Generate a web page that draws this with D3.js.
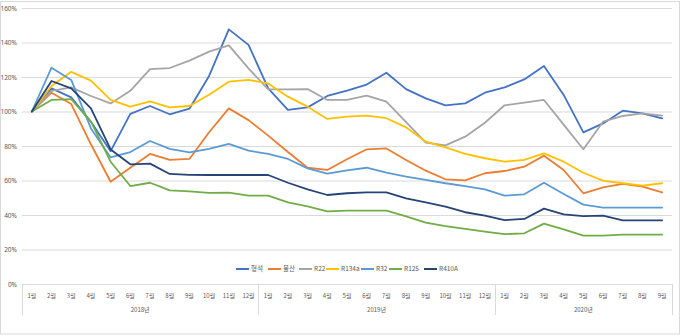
<!DOCTYPE html>
<html>
<head>
<meta charset="utf-8">
<script src="https://cdn.jsdelivr.net/npm/d3@7"></script>
<style>
  html, body { margin: 0; padding: 0; background: #fff; }
  svg { display: block; }
  text { font-family: "Noto Sans CJK KR", "Noto Sans", sans-serif; fill: #595959; }
</style>
</head>
<body>
<svg id="chart" width="680" height="336"></svg>
<script>
// Monthly index (Jan 2018 = 100%)
const years = ["2018년", "2019년", "2020년"];
const monthsPerYear = [12, 12, 9];
const yTicks = [0, 20, 40, 60, 80, 100, 120, 140, 160];

const seriesNames = ["형석", "불산", "R22", "R134a", "R32", "R125", "R410A"];
const seriesColors = ["#4472C4", "#ED7D31", "#A5A5A5", "#FFC000", "#5B9BD5", "#70AD47", "#264478"];

const fluorite = [100, 113.4, 108.2, 94, 77, 98.6, 103.2, 98.4, 101.6, 120.6, 147.6, 138.6,
                  113.4, 100.9, 102.4, 109, 112.1, 115.6, 122.5, 113, 107.6, 103.5, 104.7, 110.9,
                  114, 118.6, 126.4, 109.6, 87.9, 93.1, 100.5, 98.9, 96];
const hfAcid = [100, 110.9, 104.3, 81, 59.3, 67.4, 75.4, 71.9, 72.5, 88, 101.8, 95,
                86, 76.5, 67.4, 66.1, 72.3, 78.1, 78.6, 71.9, 65.7, 60.7, 60.1, 64.2,
                65.5, 68, 74.4, 66.1, 52.6, 56, 58, 56.4, 53.1];
const r22 = [100, 112, 114, 109, 104.7, 112, 124.6, 125.2, 129.5, 134.7, 138.3, 125,
             112.8, 112.8, 113, 106.7, 106.7, 109.2, 105.7, 93.9, 81.9, 80.4, 85.4, 93.5,
             103.6, 105.1, 106.7, 92.4, 78.1, 94.1, 97.4, 98.9, 97.6];
const r134a = [100, 114.8, 123, 117.9, 106.7, 102.8, 105.9, 102.4, 103.2, 109.7, 117.3, 118.3,
               116.3, 108.6, 102.8, 95.7, 97, 97.6, 96.1, 90.8, 82.5, 79.2, 75.4, 72.9,
               70.9, 71.9, 75.7, 70.9, 64.5, 59.9, 58.4, 57, 58.4];
const r32 = [100, 125.4, 118.3, 90.2, 73.4, 76.5, 82.9, 78.3, 76.3, 78.3, 81.2, 77.3,
             75.4, 72.5, 67, 64, 65.9, 67.4, 64.5, 62.2, 60.3, 58.4, 56.8, 54.9,
             51.2, 52, 58.7, 52.2, 46, 44.3, 44.3, 44.3, 44.3];
const r125 = [100, 106.7, 107.2, 94.1, 70.9, 56.8, 58.7, 54.3, 53.7, 52.8, 53, 51.2,
              51.2, 47.3, 45, 42.1, 42.5, 42.5, 42.5, 39.2, 35.6, 33.6, 31.9, 30.3,
              28.9, 29.4, 35, 31.7, 28, 28, 28.6, 28.6, 28.6];
const r410a = [100, 117.7, 113.4, 101.8, 78, 69.4, 69.8, 63.8, 63.3, 63.2, 63.2, 63.2,
               63.2, 58.7, 54.9, 51.6, 52.6, 53.1, 53.1, 49.7, 47.3, 44.8, 41.6, 39.6,
               37, 37.7, 43.7, 40.4, 39.4, 39.6, 36.9, 36.9, 36.9];

const seriesValues = [fluorite, hfAcid, r22, r134a, r32, r125, r410a];

// Category list: one entry per month across the years
const categories = [];
years.forEach((yr, yi) => {
  for (let m = 1; m <= monthsPerYear[yi]; m++) categories.push({ year: yr, label: m + "월", key: yr + "-" + m });
});

const svg = d3.select("#chart");
const W = 680, H = 336;
const plot = { left: 22, right: 672, top: 8, bottom: 284 };

// Outer frame
svg.append("rect")
  .attr("x", 0.5).attr("y", 1.5)
  .attr("width", W - 1).attr("height", H - 3.5)
  .attr("fill", "#fff").attr("stroke", "#d9d9d9").attr("stroke-width", 1);

const x = d3.scaleBand()
  .domain(categories.map(c => c.key))
  .range([plot.left, plot.right])
  .padding(0);

const y = d3.scaleLinear().domain([0, 160]).range([plot.bottom, plot.top]);

// Horizontal gridlines and percent labels
const yAxis = d3.axisLeft(y)
  .tickValues(yTicks)
  .tickSize(-(plot.right - plot.left))
  .tickPadding(5)
  .tickFormat(d => d + "%");

const gy = svg.append("g")
  .attr("transform", `translate(${plot.left},0)`)
  .call(yAxis);
gy.select(".domain").remove();
gy.selectAll(".tick line").attr("stroke", "#d9d9d9").attr("stroke-width", 1.2);
gy.selectAll(".tick text")
  .attr("font-size", 6.5)
  .attr("fill", "#595959")
  .style("font-family", "'Noto Sans', sans-serif");

// Two-level category axis: months and years
const axisG = svg.append("g");
const axisTop = plot.bottom;
const axisBottom = 315;

axisG.append("line")
  .attr("x1", plot.left).attr("x2", plot.right)
  .attr("y1", axisTop + 0.5).attr("y2", axisTop + 0.5)
  .attr("stroke", "#d9d9d9").attr("stroke-width", 1);

// Year boundaries
let start = 0;
const boundaries = [0];
monthsPerYear.forEach(n => { start += n; boundaries.push(start); });
boundaries.forEach(b => {
  const bx = b < categories.length ? x(categories[b].key) : plot.right;
  axisG.append("line")
    .attr("x1", Math.round(bx) + 0.5).attr("x2", Math.round(bx) + 0.5)
    .attr("y1", axisTop).attr("y2", axisBottom)
    .attr("stroke", "#d9d9d9").attr("stroke-width", 1);
});

axisG.selectAll("text.month")
  .data(categories)
  .join("text")
  .attr("class", "month")
  .attr("x", d => x(d.key) + x.bandwidth() / 2)
  .attr("y", 296)
  .attr("text-anchor", "middle")
  .attr("dominant-baseline", "middle")
  .attr("font-size", 6)
  .text(d => d.label);

axisG.selectAll("text.year")
  .data(years)
  .join("text")
  .attr("class", "year")
  .attr("x", (d, i) => {
    const a = x(categories[boundaries[i]].key);
    const b = boundaries[i + 1] < categories.length ? x(categories[boundaries[i + 1]].key) : plot.right;
    return (a + b) / 2;
  })
  .attr("y", 310)
  .attr("text-anchor", "middle")
  .attr("dominant-baseline", "middle")
  .attr("font-size", 6)
  .text(d => d);

// Series lines
const line = d3.line()
  .x((d, i) => x(categories[i].key) + x.bandwidth() / 2)
  .y(d => y(d));

svg.append("g")
  .selectAll("path")
  .data(seriesValues)
  .join("path")
  .attr("d", d => line(d))
  .attr("fill", "none")
  .attr("stroke", (d, i) => seriesColors[i])
  .attr("stroke-width", 1.8)
  .attr("stroke-linejoin", "round")
  .attr("stroke-linecap", "round");

// Legend
const legendX = [236, 268, 299, 326, 361, 389, 424];
const legendY = 269;
const lg = svg.append("g");
seriesNames.forEach((name, i) => {
  lg.append("line")
    .attr("x1", legendX[i]).attr("x2", legendX[i] + 13)
    .attr("y1", legendY).attr("y2", legendY)
    .attr("stroke", seriesColors[i]).attr("stroke-width", 2);
  lg.append("text")
    .attr("x", legendX[i] + 15)
    .attr("y", legendY)
    .attr("dominant-baseline", "middle")
    .attr("font-size", 6.5)
    .text(name);
});
</script>
</body>
</html>
